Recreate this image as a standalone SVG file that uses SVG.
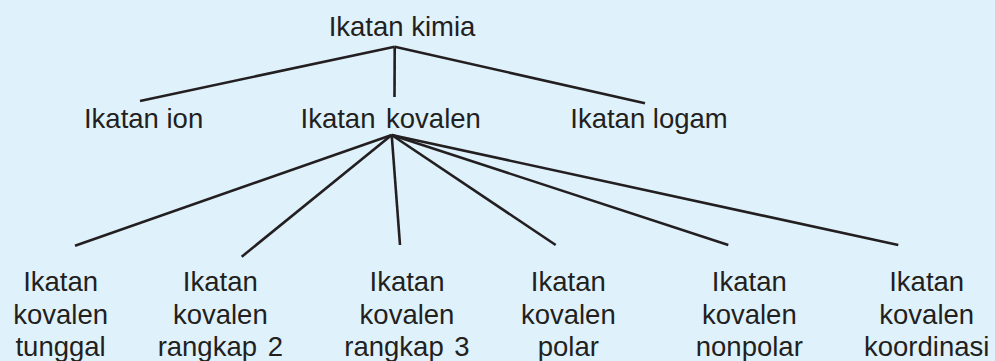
<svg xmlns="http://www.w3.org/2000/svg" width="995" height="361" viewBox="0 0 995 361">
<style>
.t{font-family:"Liberation Sans",Arial,sans-serif;font-size:27.5px;fill:#231f20;text-anchor:middle}
.c line{stroke:#231f20;stroke-width:2.6;stroke-linecap:butt}
</style>
<rect width="995" height="361" fill="#dff2fc"/>
<g class="c" id="connectors">
<line x1="394.7" y1="46.7" x2="140" y2="101"/>
<line x1="394.7" y1="46.7" x2="394.5" y2="97"/>
<line x1="394.7" y1="46.7" x2="645" y2="103.3"/>
<line x1="391.7" y1="135" x2="75" y2="245.7"/>
<line x1="391.7" y1="135" x2="241.7" y2="256.7"/>
<line x1="391.7" y1="135" x2="400" y2="245"/>
<line x1="391.7" y1="135" x2="555.7" y2="245"/>
<line x1="391.7" y1="135" x2="728.3" y2="245"/>
<line x1="391.7" y1="135" x2="898.3" y2="245"/>
</g>
<g id="kimia"><text class="t" x="402" y="36">Ikatan kimia</text></g>
<g id="ion"><text class="t" x="143.6" y="128.3">Ikatan ion</text></g>
<g id="kovalen"><text class="t" x="390.7" y="128.3" word-spacing="3">Ikatan kovalen</text></g>
<g id="logam"><text class="t" x="649" y="128.3">Ikatan logam</text></g>
<g id="tunggal"><text class="t" x="60.6" y="290.7">Ikatan<tspan x="60.6" y="323.5">kovalen</tspan><tspan x="60.6" y="356">tunggal</tspan></text></g>
<g id="rangkap2"><text class="t" x="220.3" y="290.7">Ikatan<tspan x="220.3" y="323.5">kovalen</tspan><tspan x="220.3" y="356" word-spacing="3">rangkap 2</tspan></text></g>
<g id="rangkap3"><text class="t" x="407" y="290.7">Ikatan<tspan x="407" y="323.5">kovalen</tspan><tspan x="407" y="356" word-spacing="3">rangkap 3</tspan></text></g>
<g id="polar"><text class="t" x="568.3" y="290.7">Ikatan<tspan x="568.3" y="323.5">kovalen</tspan><tspan x="568.3" y="356">polar</tspan></text></g>
<g id="nonpolar"><text class="t" x="749.3" y="290.7">Ikatan<tspan x="749.3" y="323.5">kovalen</tspan><tspan x="749.3" y="356">nonpolar</tspan></text></g>
<g id="koordinasi"><text class="t" x="926.7" y="290.7">Ikatan<tspan x="926.7" y="323.5">kovalen</tspan><tspan x="926.7" y="356">koordinasi</tspan></text></g>
</svg>
